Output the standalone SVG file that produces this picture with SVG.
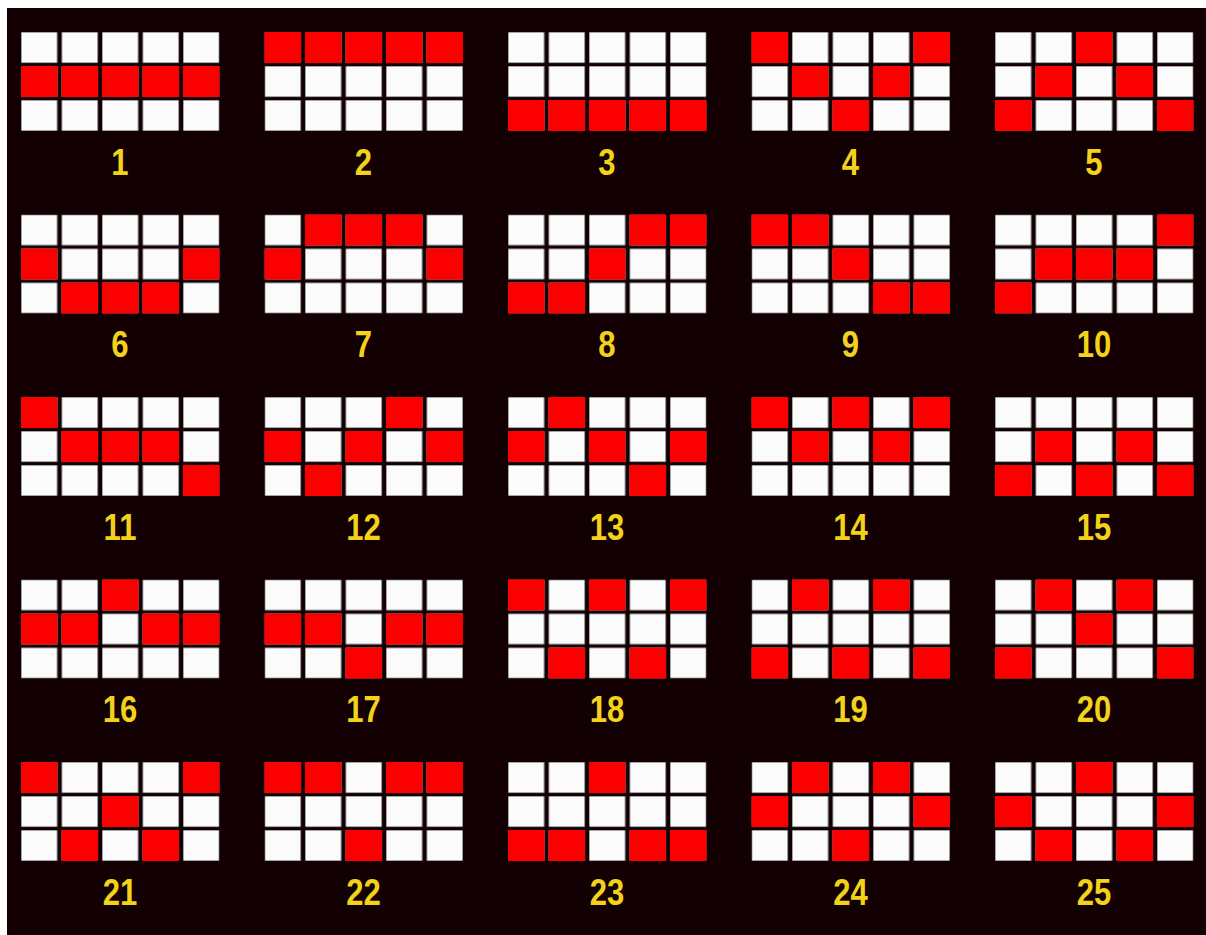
<svg xmlns="http://www.w3.org/2000/svg" xmlns:xlink="http://www.w3.org/1999/xlink" width="1206" height="935" viewBox="0 0 1206 935">
<style>
.g{fill:url(#cells)}
text{font-family:"Liberation Sans Narrow","Liberation Sans",Arial,sans-serif;font-weight:bold;font-size:37px;fill:#f2d21a;text-anchor:middle;transform-box:fill-box;transform-origin:center;transform:scaleX(0.84)}
</style>
<defs>
<pattern id="cells" patternUnits="userSpaceOnUse" width="40.5" height="34">
<rect width="36.5" height="31" fill="#fbfbfb" stroke="#2a2a2a" stroke-width="0.8"/>
</pattern>
<rect id="r" width="36.5" height="31" fill="#fa0000"/>
</defs>
<rect width="1206" height="935" fill="#ffffff"/>
<rect x="7" y="8" width="1199" height="927" fill="#130003"/>

<g id="line1" transform="translate(21,32)"><rect class="g" width="198.5" height="99"/><use href="#r" x="0" y="34"/><use href="#r" x="40.5" y="34"/><use href="#r" x="81" y="34"/><use href="#r" x="121.5" y="34"/><use href="#r" x="162" y="34"/><text x="99" y="143">1</text></g>
<g id="line2" transform="translate(264.5,32)"><rect class="g" width="198.5" height="99"/><use href="#r" x="0" y="0"/><use href="#r" x="40.5" y="0"/><use href="#r" x="81" y="0"/><use href="#r" x="121.5" y="0"/><use href="#r" x="162" y="0"/><text x="99" y="143">2</text></g>
<g id="line3" transform="translate(508,32)"><rect class="g" width="198.5" height="99"/><use href="#r" x="0" y="68"/><use href="#r" x="40.5" y="68"/><use href="#r" x="81" y="68"/><use href="#r" x="121.5" y="68"/><use href="#r" x="162" y="68"/><text x="99" y="143">3</text></g>
<g id="line4" transform="translate(751.5,32)"><rect class="g" width="198.5" height="99"/><use href="#r" x="0" y="0"/><use href="#r" x="40.5" y="34"/><use href="#r" x="81" y="68"/><use href="#r" x="121.5" y="34"/><use href="#r" x="162" y="0"/><text x="99" y="143">4</text></g>
<g id="line5" transform="translate(995,32)"><rect class="g" width="198.5" height="99"/><use href="#r" x="0" y="68"/><use href="#r" x="40.5" y="34"/><use href="#r" x="81" y="0"/><use href="#r" x="121.5" y="34"/><use href="#r" x="162" y="68"/><text x="99" y="143">5</text></g>

<g id="line6" transform="translate(21,214.5)"><rect class="g" width="198.5" height="99"/><use href="#r" x="0" y="34"/><use href="#r" x="40.5" y="68"/><use href="#r" x="81" y="68"/><use href="#r" x="121.5" y="68"/><use href="#r" x="162" y="34"/><text x="99" y="143">6</text></g>
<g id="line7" transform="translate(264.5,214.5)"><rect class="g" width="198.5" height="99"/><use href="#r" x="0" y="34"/><use href="#r" x="40.5" y="0"/><use href="#r" x="81" y="0"/><use href="#r" x="121.5" y="0"/><use href="#r" x="162" y="34"/><text x="99" y="143">7</text></g>
<g id="line8" transform="translate(508,214.5)"><rect class="g" width="198.5" height="99"/><use href="#r" x="0" y="68"/><use href="#r" x="40.5" y="68"/><use href="#r" x="81" y="34"/><use href="#r" x="121.5" y="0"/><use href="#r" x="162" y="0"/><text x="99" y="143">8</text></g>
<g id="line9" transform="translate(751.5,214.5)"><rect class="g" width="198.5" height="99"/><use href="#r" x="0" y="0"/><use href="#r" x="40.5" y="0"/><use href="#r" x="81" y="34"/><use href="#r" x="121.5" y="68"/><use href="#r" x="162" y="68"/><text x="99" y="143">9</text></g>
<g id="line10" transform="translate(995,214.5)"><rect class="g" width="198.5" height="99"/><use href="#r" x="0" y="68"/><use href="#r" x="40.5" y="34"/><use href="#r" x="81" y="34"/><use href="#r" x="121.5" y="34"/><use href="#r" x="162" y="0"/><text x="99" y="143">10</text></g>

<g id="line11" transform="translate(21,397)"><rect class="g" width="198.5" height="99"/><use href="#r" x="0" y="0"/><use href="#r" x="40.5" y="34"/><use href="#r" x="81" y="34"/><use href="#r" x="121.5" y="34"/><use href="#r" x="162" y="68"/><text x="99" y="143">11</text></g>
<g id="line12" transform="translate(264.5,397)"><rect class="g" width="198.5" height="99"/><use href="#r" x="0" y="34"/><use href="#r" x="40.5" y="68"/><use href="#r" x="81" y="34"/><use href="#r" x="121.5" y="0"/><use href="#r" x="162" y="34"/><text x="99" y="143">12</text></g>
<g id="line13" transform="translate(508,397)"><rect class="g" width="198.5" height="99"/><use href="#r" x="0" y="34"/><use href="#r" x="40.5" y="0"/><use href="#r" x="81" y="34"/><use href="#r" x="121.5" y="68"/><use href="#r" x="162" y="34"/><text x="99" y="143">13</text></g>
<g id="line14" transform="translate(751.5,397)"><rect class="g" width="198.5" height="99"/><use href="#r" x="0" y="0"/><use href="#r" x="40.5" y="34"/><use href="#r" x="81" y="0"/><use href="#r" x="121.5" y="34"/><use href="#r" x="162" y="0"/><text x="99" y="143">14</text></g>
<g id="line15" transform="translate(995,397)"><rect class="g" width="198.5" height="99"/><use href="#r" x="0" y="68"/><use href="#r" x="40.5" y="34"/><use href="#r" x="81" y="68"/><use href="#r" x="121.5" y="34"/><use href="#r" x="162" y="68"/><text x="99" y="143">15</text></g>

<g id="line16" transform="translate(21,579.5)"><rect class="g" width="198.5" height="99"/><use href="#r" x="0" y="34"/><use href="#r" x="40.5" y="34"/><use href="#r" x="81" y="0"/><use href="#r" x="121.5" y="34"/><use href="#r" x="162" y="34"/><text x="99" y="143">16</text></g>
<g id="line17" transform="translate(264.5,579.5)"><rect class="g" width="198.5" height="99"/><use href="#r" x="0" y="34"/><use href="#r" x="40.5" y="34"/><use href="#r" x="81" y="68"/><use href="#r" x="121.5" y="34"/><use href="#r" x="162" y="34"/><text x="99" y="143">17</text></g>
<g id="line18" transform="translate(508,579.5)"><rect class="g" width="198.5" height="99"/><use href="#r" x="0" y="0"/><use href="#r" x="40.5" y="68"/><use href="#r" x="81" y="0"/><use href="#r" x="121.5" y="68"/><use href="#r" x="162" y="0"/><text x="99" y="143">18</text></g>
<g id="line19" transform="translate(751.5,579.5)"><rect class="g" width="198.5" height="99"/><use href="#r" x="0" y="68"/><use href="#r" x="40.5" y="0"/><use href="#r" x="81" y="68"/><use href="#r" x="121.5" y="0"/><use href="#r" x="162" y="68"/><text x="99" y="143">19</text></g>
<g id="line20" transform="translate(995,579.5)"><rect class="g" width="198.5" height="99"/><use href="#r" x="0" y="68"/><use href="#r" x="40.5" y="0"/><use href="#r" x="81" y="34"/><use href="#r" x="121.5" y="0"/><use href="#r" x="162" y="68"/><text x="99" y="143">20</text></g>

<g id="line21" transform="translate(21,762)"><rect class="g" width="198.5" height="99"/><use href="#r" x="0" y="0"/><use href="#r" x="40.5" y="68"/><use href="#r" x="81" y="34"/><use href="#r" x="121.5" y="68"/><use href="#r" x="162" y="0"/><text x="99" y="143">21</text></g>
<g id="line22" transform="translate(264.5,762)"><rect class="g" width="198.5" height="99"/><use href="#r" x="0" y="0"/><use href="#r" x="40.5" y="0"/><use href="#r" x="81" y="68"/><use href="#r" x="121.5" y="0"/><use href="#r" x="162" y="0"/><text x="99" y="143">22</text></g>
<g id="line23" transform="translate(508,762)"><rect class="g" width="198.5" height="99"/><use href="#r" x="0" y="68"/><use href="#r" x="40.5" y="68"/><use href="#r" x="81" y="0"/><use href="#r" x="121.5" y="68"/><use href="#r" x="162" y="68"/><text x="99" y="143">23</text></g>
<g id="line24" transform="translate(751.5,762)"><rect class="g" width="198.5" height="99"/><use href="#r" x="0" y="34"/><use href="#r" x="40.5" y="0"/><use href="#r" x="81" y="68"/><use href="#r" x="121.5" y="0"/><use href="#r" x="162" y="34"/><text x="99" y="143">24</text></g>
<g id="line25" transform="translate(995,762)"><rect class="g" width="198.5" height="99"/><use href="#r" x="0" y="34"/><use href="#r" x="40.5" y="68"/><use href="#r" x="81" y="0"/><use href="#r" x="121.5" y="68"/><use href="#r" x="162" y="34"/><text x="99" y="143">25</text></g>
<g id="connectors"></g>
</svg>
